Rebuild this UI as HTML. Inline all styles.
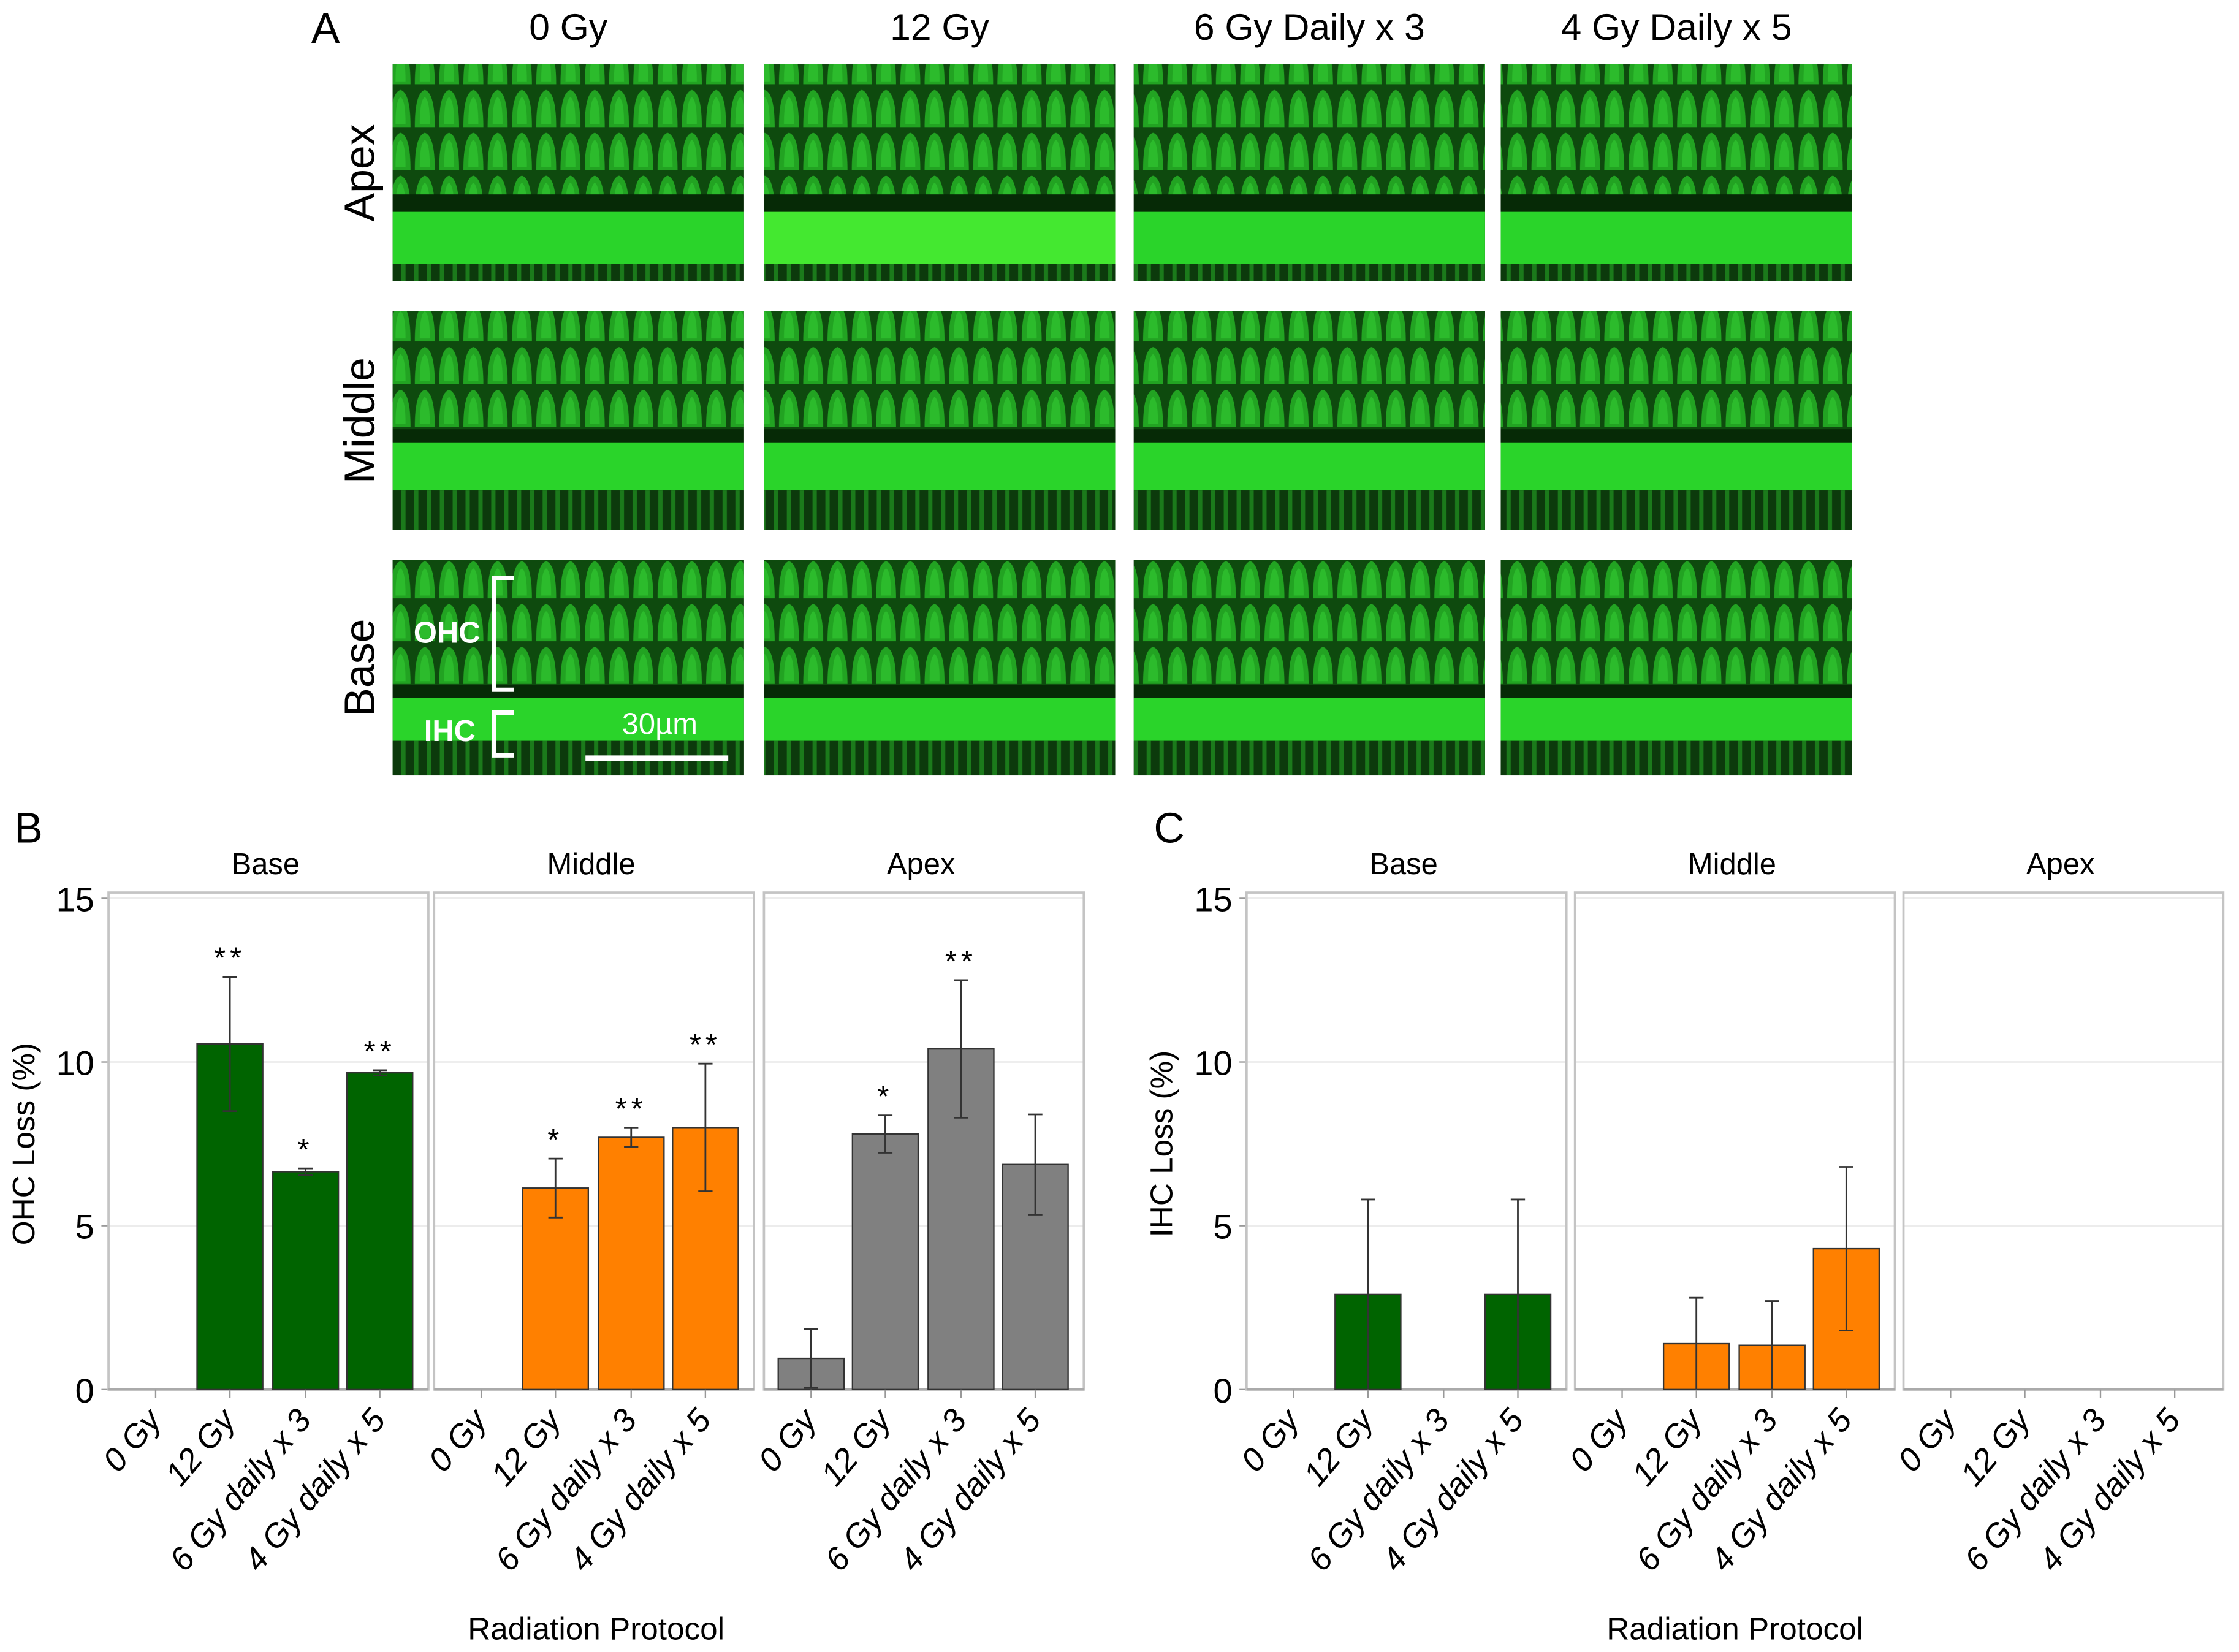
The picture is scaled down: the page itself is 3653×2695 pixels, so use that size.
<!DOCTYPE html>
<html><head><meta charset="utf-8"><style>
html,body{margin:0;padding:0;background:#fff;}
svg{display:block;font-family:"Liberation Sans",Arial,sans-serif;}
</style></head><body>
<svg id="fig" width="3653" height="2695" viewBox="0 0 1568 1156.8" xmlns="http://www.w3.org/2000/svg">
<defs>
<pattern id="cells" width="17" height="30" patternUnits="userSpaceOnUse">
<rect width="17" height="30" fill="#0e4a0e"/>
<path d="M1.5 29 Q1.5 5 8.5 3 Q15.5 5 15.5 29 Z" fill="#22a322"/>
<path d="M5 27 Q5 10 8.5 8 Q12 10 12 27 Z" fill="#2cbb2c"/>
</pattern>
<pattern id="strands" width="9" height="20" patternUnits="userSpaceOnUse">
<rect width="9" height="20" fill="#0c3a0c"/>
<rect x="2" width="3" height="20" fill="#1b7a1b"/>
</pattern>
</defs>
<g id="panelA"></g>
<g id="chartB"></g>
<g id="chartC"></g>
</svg>
<script>
// ---- Chart data ----
const categories = ["0 Gy","12 Gy","6 Gy daily x 3","4 Gy daily x 5"];
const regions = ["Base","Middle","Apex"];
const regionColors = ["#006400","#ff8000","#808080"];
const yTicks = [0,5,10,15];
// OHC loss (panel B)
const ohcBase = [0, 10.55, 6.65, 9.67];
const ohcMiddle = [0, 6.15, 7.7, 8.0];
const ohcApex = [0.95, 7.8, 10.4, 6.87];
const ohcBaseErr = [0, 2.05, 0.1, 0.08];
const ohcMiddleErr = [0, 0.9, 0.3, 1.95];
const ohcApexErr = [0.9, 0.57, 2.1, 1.53];
const ohcBaseStars = ["", "**", "*", "**"];
const ohcMiddleStars = ["", "*", "**", "**"];
const ohcApexStars = ["", "*", "**", ""];
// IHC loss (panel C)
const ihcBase = [0, 2.9, 0, 2.9];
const ihcMiddle = [0, 1.4, 1.35, 4.3];
const ihcApex = [0, 0, 0, 0];
const ihcBaseErr = [0, 2.9, 0, 2.9];
const ihcMiddleErr = [0, 1.4, 1.35, 2.5];
const ihcApexErr = [0, 0, 0, 0];

const NS = "http://www.w3.org/2000/svg";
function mk(parent, tag, attrs, text){
  const e = document.createElementNS(NS, tag);
  for (const k in attrs) e.setAttribute(k, attrs[k]);
  if (text !== undefined) e.textContent = text;
  parent.appendChild(e);
  return e;
}

// ---- Panel A (micrographs) ----
const A = document.getElementById('panelA');
let t = mk(A,'text',{x:228,y:30,'font-size':30,'text-anchor':'middle'},'A');
 
const colX = [275,535,794,1051];
const colW = 246;
const colTitles = ["0 Gy","12 Gy","6 Gy Daily x 3","4 Gy Daily x 5"];
colTitles.forEach((s,i)=>{
  const e = mk(A,'text',{x:colX[i]+colW/2,y:28,'font-size':26,'text-anchor':'middle'},s);
   
});
const rowY = [45,218,392];
const rowH = [152,153,151];
const rowNames = ["Apex","Middle","Base"];
const bands = [[0.6,0.68,0.92],[0.54,0.6,0.82],[0.58,0.64,0.84]];
rowNames.forEach((r,ri)=>{
  const e = mk(A,'text',{transform:`translate(262,${rowY[ri]+rowH[ri]/2}) rotate(-90)`,'font-size':30,'text-anchor':'middle'},r);
   
  colX.forEach((x,ci)=>{
    const g = mk(A,'g',{});
    
    
    const y=rowY[ri], h=rowH[ri], b=bands[ri];
    mk(g,'rect',{x:x,y:y,width:colW,height:h,fill:'#041a04'});
    mk(g,'rect',{x:x,y:y,width:colW,height:h*b[0],fill:'url(#cells)'});
    mk(g,'rect',{x:x,y:y+h*b[0],width:colW,height:h*(b[1]-b[0]),fill:'#062a06'});
    mk(g,'rect',{x:x,y:y+h*b[1],width:colW,height:h*(b[2]-b[1]),fill: ci===1&&ri===0?'#44e830':'#2ad42a'});
    mk(g,'rect',{x:x,y:y+h*b[2],width:colW,height:h*(1-b[2]),fill:'url(#strands)'});
  });
});
const ann = mk(A,'g',{stroke:'#fff','stroke-width':3,fill:'none'});
 
mk(ann,'path',{d:'M360 405 H346 V483 H360'});
mk(ann,'path',{d:'M360 499 H346 V529 H360'});
mk(ann,'line',{x1:410,y1:531,x2:510,y2:531,'stroke-width':4});
[["OHC",313,450],["IHC",315,519],["30µm",462,514]].forEach(([s,x,y])=>{
  const e = mk(A,'text',{x:x,y:y,'font-size':21,'font-weight':s==='30µm'?'normal':'bold',fill:'#fff','text-anchor':'middle'},s);
   
});

// ---- Bar charts ----
const yTop=629, yBot=973, panelTop=625;
function yScale(v){ return yBot - v*(yBot-yTop)/15; }
const xOffsets = [33,85,138,190];
function xScale(panelLeft, i){ return panelLeft + xOffsets[i]; }
const barW = 46;

function drawChart(gid, letter, letterX, axisLabel, panelLefts, vals, errs, stars){
  const G = document.getElementById(gid);
  const pw = 224;
  let e = mk(G,'text',{x:letterX,y:590,'font-size':30},letter);
   
  const axX = panelLefts[0];
  e = mk(G,'text',{transform:`translate(${axX-52},${(yTop+yBot)/2}) rotate(-90)`,'font-size':22,'text-anchor':'middle'},axisLabel);
   
  yTicks.forEach(v=>{
    const tt = mk(G,'text',{x:axX-10,y:yScale(v)+9,'font-size':24,'text-anchor':'end'},String(v));
     
    mk(G,'line',{x1:axX-5,x2:axX,y1:yScale(v),y2:yScale(v),stroke:'#999','stroke-width':1});
  });
  const mid = (panelLefts[0]+panelLefts[2]+pw)/2;
  e = mk(G,'text',{x:mid,y:1148,'font-size':22,'text-anchor':'middle'},'Radiation Protocol');
   
  panelLefts.forEach((pl,pi)=>{
    const pg = mk(G,'g',{});
    
    
    const st = mk(pg,'text',{x:pl+pw/2-2,y:612,'font-size':21,'text-anchor':'middle'},regions[pi]);
     
    [5,10,15].forEach(v=> mk(pg,'line',{x1:pl,x2:pl+pw,y1:yScale(v),y2:yScale(v),stroke:'#ececec','stroke-width':1.2}));
    mk(pg,'rect',{x:pl,y:panelTop,width:pw,height:yBot-panelTop,fill:'none',stroke:'#c4c4c4','stroke-width':1.6});
    mk(pg,'line',{x1:pl,x2:pl+pw,y1:yBot,y2:yBot,stroke:'#aaa','stroke-width':1.6});
    categories.forEach((c,i)=>{
      const cx = xScale(pl,i);
      const v = vals[pi][i], er = errs[pi][i];
      if (v>0){
        const bar = mk(pg,'rect',{x:cx-barW/2,y:yScale(v),width:barW,height:yBot-yScale(v),fill:regionColors[pi],stroke:'#333','stroke-width':1});
        
        
      }
      if (er>0){
        const lo = Math.max(0,v-er), hi = v+er;
        const eb = mk(pg,'g',{stroke:'#333','stroke-width':1.2});
         
        mk(eb,'line',{x1:cx,x2:cx,y1:yScale(lo),y2:yScale(hi)});
        mk(eb,'line',{x1:cx-5,x2:cx+5,y1:yScale(hi),y2:yScale(hi)});
        if (lo>0) mk(eb,'line',{x1:cx-5,x2:cx+5,y1:yScale(lo),y2:yScale(lo)});
      }
      if (stars && stars[pi][i]){
        const hi = v+er;
        const s = mk(pg,'text',{x:cx,y:yScale(hi)-6,'font-size':21,'text-anchor':'middle','letter-spacing':'3'},stars[pi][i]);
         
      }
      mk(pg,'line',{x1:cx,x2:cx,y1:yBot,y2:yBot+6,stroke:'#999','stroke-width':1});
      const lb = mk(pg,'text',{transform:`translate(${cx+5},${yBot+22}) rotate(-50)`,'font-size':23,'font-style':'italic','text-anchor':'end'},c);
       
    });
  });
}
drawChart('chartB','B',10,'OHC Loss (%)',[76,304,535],
  [ohcBase,ohcMiddle,ohcApex],[ohcBaseErr,ohcMiddleErr,ohcApexErr],
  [ohcBaseStars,ohcMiddleStars,ohcApexStars]);
drawChart('chartC','C',808,'IHC Loss (%)',[873,1103,1333],
  [ihcBase,ihcMiddle,ihcApex],[ihcBaseErr,ihcMiddleErr,ihcApexErr],null);
</script>
</body></html>
